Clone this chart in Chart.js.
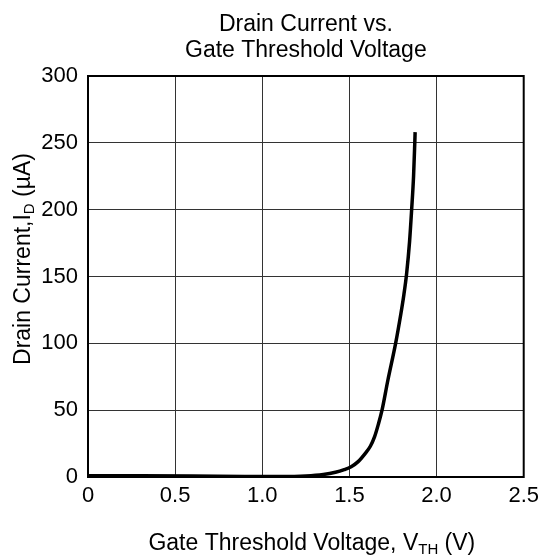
<!DOCTYPE html>
<html>
<head>
<meta charset="utf-8">
<script src="https://cdn.jsdelivr.net/npm/chart.js@4/dist/chart.umd.min.js"></script>
<style>
  html, body { margin: 0; padding: 0; background: #fff; }
  #wrap { width: 545px; height: 555px; }
</style>
</head>
<body>
<div id="wrap"><canvas id="chart"></canvas></div>
<script>
// data
const vth = [0, 0.3, 0.6, 0.9, 1.1, 1.25, 1.35, 1.42, 1.47, 1.51, 1.55, 1.59, 1.62, 1.644, 1.665, 1.687, 1.72, 1.765, 1.795, 1.812, 1.828, 1.845, 1.857, 1.868, 1.875, 1.877];
const drainCurrent = [1, 1, 0.8, 0.4, 0.3, 0.7, 1.8, 3.5, 5.5, 7.7, 11.5, 17.5, 23, 30, 39, 50, 72, 100, 122, 136, 152, 176, 200, 225, 250, 258];
const xTickLabels = ["0", "0.5", "1.0", "1.5", "2.0", "2.5"];
const yTickLabels = ["0", "50", "100", "150", "200", "250", "300"];

const FONT = "Liberation Sans, Arial, sans-serif";

// draws frame, title and axis titles (with subscripts)
const decorations = {
  id: "decorations",
  afterDraw(chart) {
    const { ctx, chartArea: a } = chart;
    const cx = (a.left + a.right) / 2;
    ctx.save();
    ctx.strokeStyle = "#000";
    ctx.lineWidth = 2;
    ctx.strokeRect(a.left, a.top, a.right - a.left, a.bottom - a.top);

    ctx.fillStyle = "#000";
    ctx.textAlign = "center";
    ctx.textBaseline = "alphabetic";
    ctx.font = "23px " + FONT;
    ctx.fillText("Drain Current vs.", cx, 30.5);
    ctx.fillText("Gate Threshold Voltage", cx, 56.5);

    // text pieces with optional subscript
    function drawParts(parts, x, y) {
      let total = 0;
      parts.forEach(p => {
        ctx.font = (p.sub ? "15px " : "23px ") + FONT;
        p.w = ctx.measureText(p.t).width;
        total += p.w;
      });
      let px = x - total / 2;
      ctx.textAlign = "left";
      parts.forEach(p => {
        ctx.font = (p.sub ? "15px " : "23px ") + FONT;
        ctx.fillText(p.t, px, y + (p.sub ? 4 : 0));
        px += p.w;
      });
    }

    drawParts([{ t: "Gate Threshold Voltage, V" }, { t: "TH", sub: true }, { t: " (V)" }], cx + 6, 550);

    ctx.translate(30, 259);
    ctx.rotate(-Math.PI / 2);
    drawParts([{ t: "Drain Current,I" }, { t: "D", sub: true }, { t: " (µA)" }], 0, 0);
    ctx.restore();
  }
};

new Chart(document.getElementById("chart"), {
  type: "scatter",
  data: {
    datasets: [{
      data: vth.map((v, i) => ({ x: v, y: drainCurrent[i] })),
      showLine: true,
      borderColor: "#000",
      borderWidth: 3.5,
      pointRadius: 0,
      cubicInterpolationMode: "monotone",
      fill: false
    }]
  },
  options: {
    responsive: true,
    maintainAspectRatio: false,
    animation: false,
    layout: { padding: { top: 76, right: 18, bottom: 0, left: 0 } },
    plugins: { legend: { display: false }, tooltip: { enabled: false }, title: { display: false } },
    scales: {
      x: {
        type: "linear",
        min: 0, max: 2.5,
        afterFit(s) { s.height = 78; },
        afterBuildTicks(s) { s.ticks = xTickLabels.map(t => ({ value: parseFloat(t) })); },
        ticks: {
          color: "#000",
          font: { family: FONT, size: 22 },
          padding: 6,
          maxRotation: 0,
          callback: (v) => xTickLabels.find(t => parseFloat(t) === v)
        },
        grid: { color: "#333", lineWidth: 1, drawTicks: false },
        border: { display: false }
      },
      y: {
        min: 0, max: 300,
        afterFit(s) { s.width = 88; },
        afterBuildTicks(s) { s.ticks = yTickLabels.map(t => ({ value: Number(t) })); },
        ticks: {
          color: "#000",
          font: { family: FONT, size: 22 },
          padding: 10,
          callback: (v) => String(v)
        },
        grid: { color: "#333", lineWidth: 1, drawTicks: false },
        border: { display: false }
      }
    }
  },
  plugins: [decorations]
});
</script>
</body>
</html>
